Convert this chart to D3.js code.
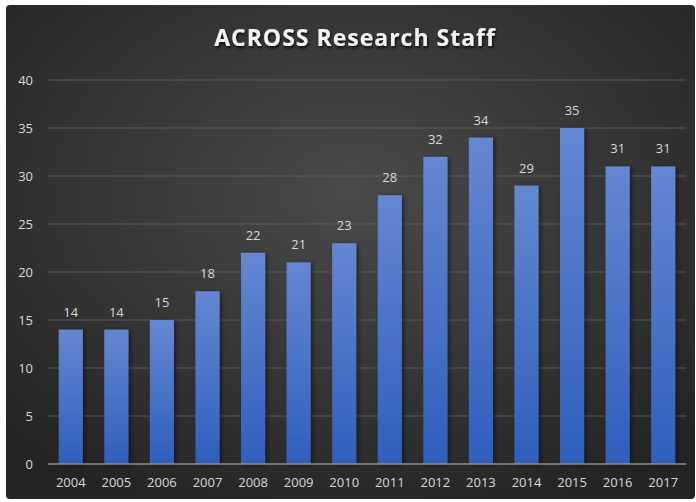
<!DOCTYPE html>
<html>
<head>
<meta charset="utf-8">
<script src="https://cdn.jsdelivr.net/npm/d3@7"></script>
<style>
  body { margin: 0; background: #ffffff; }
  svg { display: block; }
</style>
</head>
<body>
<div id="chart"></div>
<script>
var years = ["2004","2005","2006","2007","2008","2009","2010","2011","2012","2013","2014","2015","2016","2017"];
var staff = [14, 14, 15, 18, 22, 21, 23, 28, 32, 34, 29, 35, 31, 31];
var yTicks = [0, 5, 10, 15, 20, 25, 30, 35, 40];

var W = 696, H = 502;
var mLeft = 48, mRight = 686, mTop = 80, mBottom = 464;

var svg = d3.select("#chart")
    .append("svg")
    .attr("width", W)
    .attr("height", H);

var defs = svg.append("defs");

// fondo radial
var bg = defs.append("radialGradient")
    .attr("id", "bgGrad")
    .attr("cx", "50%").attr("cy", "38%").attr("r", "70%");
bg.append("stop").attr("offset", "0%").attr("stop-color", "#4a4a4a");
bg.append("stop").attr("offset", "100%").attr("stop-color", "#242424");

var barGrad = defs.append("linearGradient")
    .attr("id", "barGrad")
    .attr("x1", 0).attr("y1", 0).attr("x2", 0).attr("y2", 1);
barGrad.append("stop").attr("offset", "0%").attr("stop-color", "#6587d2");
barGrad.append("stop").attr("offset", "100%").attr("stop-color", "#2f5fbd");

var shadow = defs.append("filter").attr("id", "shadow")
    .attr("x", "-20%").attr("y", "-20%").attr("width", "150%").attr("height", "150%");
shadow.append("feDropShadow")
    .attr("dx", 2).attr("dy", 1).attr("stdDeviation", 2)
    .attr("flood-color", "#000").attr("flood-opacity", 0.5);

var txtShadow = defs.append("filter").attr("id", "txtShadow");
txtShadow.append("feDropShadow")
    .attr("dx", 1).attr("dy", 2).attr("stdDeviation", 1.5)
    .attr("flood-color", "#000").attr("flood-opacity", 0.8);

svg.append("rect")
    .attr("x", 6).attr("y", 5)
    .attr("width", 689).attr("height", 494)
    .attr("rx", 4)
    .attr("fill", "url(#bgGrad)");

var x = d3.scaleBand()
    .domain(years)
    .range([mLeft, mRight])
    .paddingInner(0.47)
    .paddingOuter(0.235);

var y = d3.scaleLinear()
    .domain([0, 40])
    .range([mBottom, mTop]);

// lineas de la grilla
svg.append("g")
    .selectAll("line")
    .data(yTicks.filter(function(d) { return d > 0; }))
    .enter().append("line")
    .attr("x1", mLeft).attr("x2", mRight)
    .attr("y1", function(d) { return y(d); })
    .attr("y2", function(d) { return y(d); })
    .attr("stroke", "#5a5a5a")
    .attr("stroke-width", 1);

var yAxis = svg.append("g")
    .attr("transform", "translate(" + (mLeft - 15) + ",0)")
    .call(d3.axisLeft(y).tickValues(yTicks).tickSize(0).tickPadding(0));
yAxis.select(".domain").remove();
yAxis.selectAll("text")
    .attr("fill", "#d9d9d9")
    .attr("font-family", "'Open Sans', sans-serif")
    .attr("font-size", 13);

svg.append("g")
    .selectAll("rect")
    .data(staff)
    .enter().append("rect")
    .attr("x", function(d, i) { return x(years[i]); })
    .attr("y", function(d) { return y(d); })
    .attr("width", x.bandwidth())
    .attr("height", function(d) { return y(0) - y(d); })
    .attr("fill", "url(#barGrad)")
    .attr("filter", "url(#shadow)");

svg.append("g")
    .selectAll("text")
    .data(staff)
    .enter().append("text")
    .attr("x", function(d, i) { return x(years[i]) + x.bandwidth() / 2; })
    .attr("y", function(d) { return y(d) - 13; })
    .attr("text-anchor", "middle")
    .attr("fill", "#d9d9d9")
    .attr("font-family", "'Open Sans', sans-serif")
    .attr("font-size", 13)
    .text(function(d) { return d; });

// eje x
svg.append("line")
    .attr("x1", mLeft).attr("x2", mRight)
    .attr("y1", y(0)).attr("y2", y(0))
    .attr("stroke", "#8c8c8c")
    .attr("stroke-width", 1.5);

var xAxis = svg.append("g")
    .attr("transform", "translate(0," + (mBottom + 14) + ")")
    .call(d3.axisBottom(x).tickSize(0).tickPadding(0));
xAxis.select(".domain").remove();
xAxis.selectAll("text")
    .attr("fill", "#d9d9d9")
    .attr("font-family", "'Open Sans', sans-serif")
    .attr("font-size", 13);

svg.append("text")
    .attr("x", 355)
    .attr("y", 46)
    .attr("text-anchor", "middle")
    .attr("fill", "#f2f2f2")
    .attr("font-family", "'Open Sans', sans-serif")
    .attr("font-weight", "bold")
    .attr("font-size", 23)
    .attr("letter-spacing", 1)
    .attr("filter", "url(#txtShadow)")
    .text("ACROSS Research Staff");
</script>
</body>
</html>
